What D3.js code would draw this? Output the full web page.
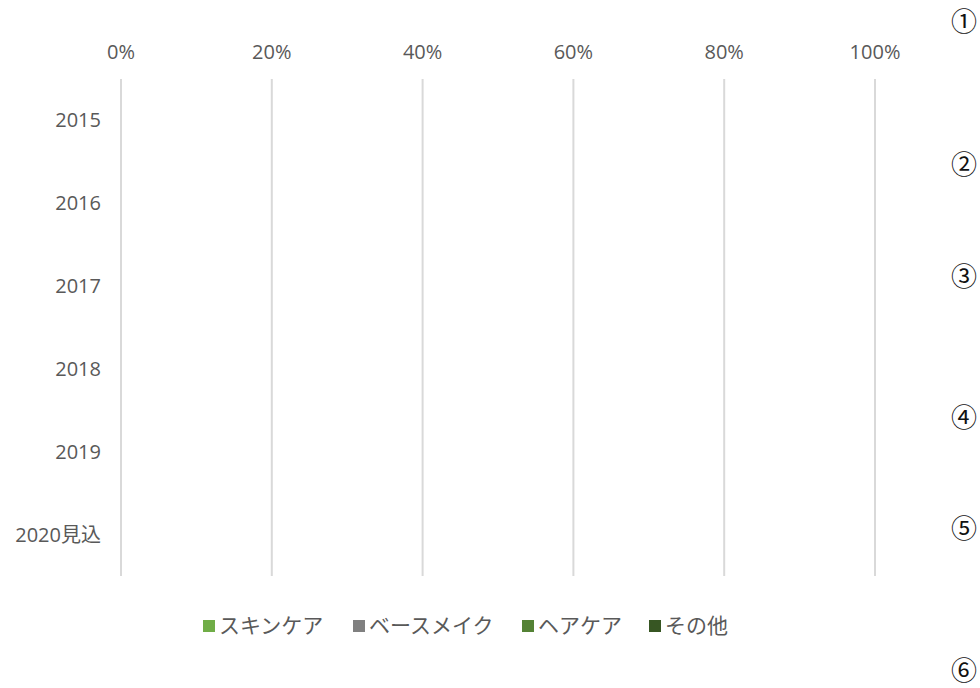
<!DOCTYPE html>
<html><head><meta charset="utf-8">
<script src="https://cdn.jsdelivr.net/npm/d3@7"></script>
<style>
body{margin:0;background:#fff;}
text{font-family:"Open Sans","Noto Sans CJK JP",sans-serif;}
</style></head>
<body>
<svg id="chart" width="980" height="688"></svg>
<script>
const categories = ["2015","2016","2017","2018","2019","2020見込"];
const seriesNames = ["スキンケア","ベースメイク","ヘアケア","その他"];
const seriesColors = ["#70ad47","#808080","#548235","#375623"];
// No bars visible in the reference: all shares read as 0
const skincare = [0,0,0,0,0,0];
const baseMake = [0,0,0,0,0,0];
const hairCare = [0,0,0,0,0,0];
const other    = [0,0,0,0,0,0];
const xTicks = [0,0.2,0.4,0.6,0.8,1.0];
const sideLabels = ["①","②","③","④","⑤","⑥"];
const sideLabelY = [21.5,165,277,418,529,671];

const svg = d3.select("#chart");
const x = d3.scaleLinear().domain([0,1]).range([121,875]);
const y = d3.scaleBand().domain(categories).range([79,576]).paddingInner(0.5).paddingOuter(0.25);

// gridlines
svg.append("g").selectAll("line").data(xTicks).join("line")
  .attr("x1",d=>x(d)).attr("x2",d=>x(d)).attr("y1",79).attr("y2",576)
  .attr("stroke","#d9d9d9").attr("stroke-width",2);

// x tick labels
svg.append("g").selectAll("text").data(xTicks).join("text")
  .attr("x",d=>x(d)).attr("y",59).attr("text-anchor","middle")
  .attr("font-size",20).attr("fill","#595959")
  .text(d=>d3.format(".0%")(d));

// y labels
svg.append("g").selectAll("text").data(categories).join("text")
  .attr("x",101).attr("y",d=>y(d)+y.bandwidth()/2).attr("dy","0.35em")
  .attr("text-anchor","end").attr("font-size",20).attr("fill","#595959")
  .text(d=>d);

// stacked bars
const rows = categories.map((c,i)=>({cat:c,"スキンケア":skincare[i],"ベースメイク":baseMake[i],"ヘアケア":hairCare[i],"その他":other[i]}));
const stack = d3.stack().keys(seriesNames)(rows);
svg.append("g").selectAll("g").data(stack).join("g")
  .attr("fill",(d,i)=>seriesColors[i])
  .selectAll("rect").data(d=>d).join("rect")
  .attr("x",d=>x(d[0])).attr("width",d=>Math.max(0,x(d[1])-x(d[0])))
  .attr("y",d=>y(d.data.cat)).attr("height",y.bandwidth());

// legend
const legendX = [203,353,522,649];
const lg = svg.append("g").selectAll("g").data(seriesNames).join("g")
  .attr("transform",(d,i)=>`translate(${legendX[i]},626)`);
lg.append("rect").attr("x",0).attr("y",-6).attr("width",12).attr("height",12)
  .attr("fill",(d,i)=>seriesColors[i]);
lg.append("text").attr("x",16).attr("y",0).attr("dy","0.35em")
  .attr("font-size",21).attr("fill","#595959").text(d=>d);

// circled side numbers
svg.append("g").selectAll("text").data(sideLabels).join("text")
  .attr("x",964).attr("y",(d,i)=>sideLabelY[i]).attr("dy","0.35em")
  .attr("text-anchor","middle").attr("font-size",26).attr("fill","#111")
  .style("font-family","'Noto Sans CJK JP'")
  .text(d=>d);
</script>
</body></html>
